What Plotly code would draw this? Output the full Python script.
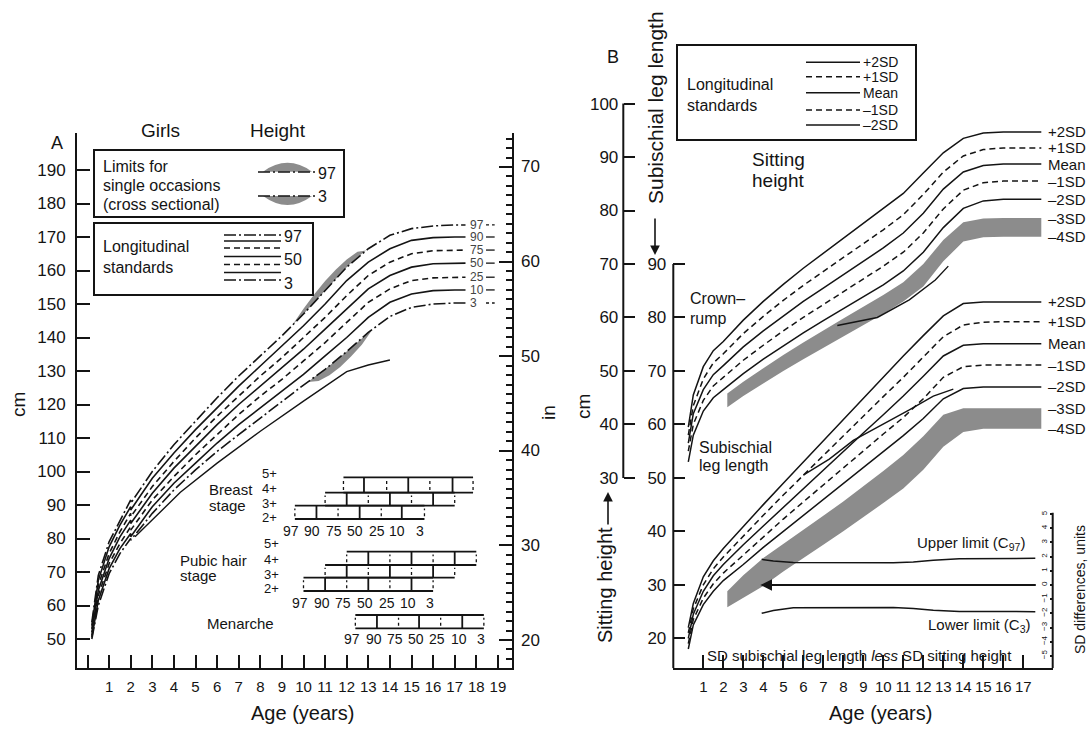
import plotly.graph_objects as go

W, H = 1091, 729
FONT = "Liberation Sans, Arial, Helvetica, sans-serif"
BLACK = "#141414"
GREY = "#8c8c8c"
DASHDOT = "12px,3px,2px,3px"
DASH = "6px,4px"


def X(p):
    return p / W


def Y(p):
    return 1 - p / H


# ---------------- Panel A : girls height percentiles (cm) ----------------
ages_a = [0.2, 0.5, 1.0, 1.5, 2.0, 2.0, 3, 4, 5, 6, 7, 8, 9, 10, 11, 12, 13, 14, 15, 16, 17, 17.5]
p97 = [55, 69, 79, 85.5, 91.5, 90.5, 100, 108, 115, 122, 128.5, 134.5, 140.5, 147, 154, 161, 166.5, 170.5, 172.5, 173.3, 173.6, 173.6]
p90 = [54, 67.5, 77.5, 84, 89.5, 88.5, 98, 105.5, 112.5, 119, 125.5, 131.5, 137.5, 143.5, 150, 157, 162.5, 166.5, 169, 169.8, 170, 170]
p75 = [53, 66, 75.5, 82, 87.5, 86.5, 95.5, 103, 110, 116.5, 122.5, 128.5, 134, 140, 146, 152.5, 158.5, 162.5, 165, 165.9, 166.1, 166.1]
p50 = [52, 64.5, 74, 80.5, 85.5, 84.5, 93.5, 101, 107.5, 114, 120, 125.5, 131, 136.5, 142.5, 148.5, 154.5, 158.5, 161, 162, 162.2, 162.2]
p25 = [51, 63, 72.5, 78.5, 83.5, 82.5, 91.5, 98.5, 105, 111, 117, 122.5, 127.5, 133, 138.5, 144.5, 150.5, 154.5, 157, 157.8, 158, 158]
p10 = [50.5, 61.5, 71, 77, 81.5, 80.5, 89.5, 96.5, 102.5, 108.5, 114, 119, 124, 129, 134.5, 140, 146, 150.5, 153, 154, 154.2, 154.2]
p3 = [50, 60, 69.5, 75.5, 80, 79.5, 87.5, 94.5, 100.5, 106, 111, 116, 121, 125.8, 130.5, 135.8, 141.5, 146.3, 149, 150, 150.3, 150.3]
pct_names = ["97", "90", "75", "50", "25", "10", "3"]
pct_curves = [p97, p90, p75, p50, p25, p10, p3]
pct_dash = [DASHDOT, "solid", DASH, "solid", DASH, "solid", DASHDOT]

# cross-sectional limits (grey lenses)
lens97_ages = [9.5, 10, 10.5, 11, 11.5, 12, 12.5, 12.9]
lens97_lo = [143.9, 147, 150.5, 154, 157.5, 161, 164, 166]
lens97_hi = [143.9, 148.6, 152.9, 156.9, 160.3, 163.3, 165.6, 166]
lens3_ages = [10.2, 10.7, 11.2, 11.7, 12.2, 12.7, 13.2]
lens3_hi = [126.7, 129.1, 131.6, 134.2, 136.9, 139.8, 142.5]
lens3_lo = [126.7, 127.0, 128.7, 131.2, 134.3, 137.8, 142.5]

# extra solid line below the 3rd centile
late_ages = [2.2, 4.3, 6, 8, 10, 11, 12, 13, 14]
late_cm = [80.5, 93.8, 102.5, 112, 121, 125.5, 129.8, 131.8, 133.3]

# puberty ladders: ages at centiles 97,90,75,50,25,10,3
pct_labels = ["97", "90", "75", "50", "25", "10", "3"]
breast_2 = [9.6, 10.6, 11.6, 12.6, 13.6, 14.55, 15.6]
breast_3 = [11.0, 12.0, 13.0, 14.0, 15.0, 16.0, 17.0]
breast_4 = [11.85, 12.8, 13.85, 14.85, 15.85, 16.9, 17.85]
pubic_2 = [10, 11, 12, 13, 14, 15, 16]
pubic_3 = [11, 12, 13, 14, 15, 16, 17]
pubic_4 = [12, 13, 14, 15, 16, 17, 18]
menarche = [12.4, 13.4, 14.4, 15.35, 16.35, 17.35, 18.35]

# ---------------- Panel B : sitting height / subischial leg length ----------------
ages_b = [0.25, 0.5, 1.0, 1.5, 2.0, 3, 4, 5, 6, 7, 8, 9, 10, 11, 12, 13, 14, 15, 16, 17, 17.9]
sit_p2 = [59.5, 65.5, 70.8, 73.8, 75.5, 79.5, 83, 86.2, 89.2, 92, 94.8, 97.6, 100.4, 103.2, 107, 110.8, 113.5, 114.5, 114.7, 114.7, 114.7]
sit_p1 = [58, 63.5, 68.5, 71.5, 73.2, 77, 80.2, 83.2, 86, 88.6, 91.2, 93.8, 96.4, 99.2, 103, 107.2, 110.2, 111.4, 111.7, 111.7, 111.7]
sit_mean = [56.5, 62, 66.5, 69.3, 71, 74.5, 77.5, 80.3, 83, 85.5, 88, 90.5, 93, 95.8, 99.5, 104, 107.2, 108.4, 108.7, 108.7, 108.7]
sit_m1 = [55, 60, 64.5, 67.2, 68.8, 72, 74.8, 77.5, 80, 82.4, 84.8, 87.2, 89.6, 92.2, 95.8, 100.3, 103.8, 105.2, 105.5, 105.5, 105.5]
sit_m2 = [53, 58, 62.5, 65, 66.5, 69.5, 72.2, 74.7, 77.1, 79.4, 81.6, 83.8, 86.1, 88.7, 92.2, 96.8, 100.4, 101.8, 102.1, 102.1, 102.1]
sit_band_ages = [2.2, 3, 4, 5, 6, 7, 8, 9, 10, 11, 12, 13, 14, 15, 16, 17.9]
sit_band_hi = [65.8, 68, 70.5, 73, 75.3, 77.6, 79.8, 82, 84.2, 86.6, 90, 94.5, 97.8, 98.5, 98.6, 98.6]
sit_band_lo = [63.2, 65.3, 67.6, 70, 72.2, 74.4, 76.5, 78.6, 80.7, 83, 85.8, 90.5, 94.2, 95, 95.1, 95.1]
sit_case_ages = [7.7, 9.7, 11.3, 12.6, 13.25]
sit_case = [78.5, 80.0, 83.3, 87.0, 89.6]

leg_p2 = [22, 26.5, 31.5, 34.5, 36.8, 41, 45, 49, 53, 57, 61, 65, 69, 72.8, 76.6, 80.3, 82.6, 82.9, 82.9, 82.9, 82.9]
leg_p1 = [21, 25.5, 30, 33, 35.2, 39.2, 43, 46.8, 50.5, 54.2, 57.9, 61.5, 65.2, 68.8, 72.6, 76.4, 78.6, 79.1, 79.2, 79.2, 79.2]
leg_mean = [20, 24.5, 28.8, 31.7, 33.8, 37.5, 41, 44.5, 48, 51.5, 55, 58.4, 61.8, 65.3, 69, 72.8, 74.8, 75.1, 75.1, 75.1, 75.1]
leg_m1 = [19, 23.5, 27.5, 30.2, 32.2, 35.6, 39, 42.3, 45.5, 48.7, 51.9, 55, 58.2, 61.3, 64.8, 68.8, 70.8, 71.1, 71.1, 71.1, 71.1]
leg_m2 = [18, 22.5, 26.3, 28.8, 30.8, 33.8, 37, 40, 43, 46, 49, 52, 55, 57.9, 61.1, 64.8, 66.7, 67, 67, 67, 67]
leg_band_ages = [2.2, 3, 4, 5, 6, 7, 8, 9, 10, 11, 12, 13, 14, 15, 17.9]
leg_band_hi = [28.8, 31.8, 35, 37.6, 40.2, 42.9, 45.6, 48.4, 51.3, 54.3, 57.8, 61.8, 63, 63, 63]
leg_band_lo = [25.8, 27.5, 29.8, 32.5, 35, 37.5, 40, 42.6, 45.3, 48, 51.5, 55.8, 58.6, 59.2, 59.2]
leg_case_ages = [6.0, 7.3, 8.5, 10, 11.3, 12.5, 13.5]
leg_case = [50.5, 53.5, 57.0, 60.0, 62.7, 65.3, 66.6]

sd_names = ["+2SD", "+1SD", "Mean", "\u20131SD", "\u20132SD"]
sd_dash = ["solid", DASH, "solid", DASH, "solid"]
sit_curves = [sit_p2, sit_p1, sit_mean, sit_m1, sit_m2]
leg_curves = [leg_p2, leg_p1, leg_mean, leg_m1, leg_m2]

# SD difference (leg less sitting height)
sd_ages = [3.92, 4.5, 5.5, 8, 10.5, 11.5, 12.5, 13.8, 15, 17.6]
sd_upper = [1.81, 1.7, 1.58, 1.56, 1.57, 1.62, 1.75, 1.86, 1.88, 1.88]
sd_lower = [-2.0, -1.8, -1.6, -1.57, -1.58, -1.65, -1.78, -1.87, -1.88, -1.88]
sd_zero_ages = [3.85, 17.7]

# axis tick values
cm_ticks_a = list(range(50, 200, 10))
in_ticks_a = [20, 30, 40, 50, 60, 70]
in_minor_a = list(range(17, 74))
age_ticks_a = list(range(0, 20))
age_ticks_b = list(range(1, 19))
leg_ticks = list(range(20, 100, 10))
sit_ticks = list(range(30, 110, 10))
sd_ticks = list(range(-5, 6))

fig = go.Figure()


def line(x, y, xa, ya, dash="solid", width=1.5, color=BLACK):
    fig.add_trace(go.Scatter(x=x, y=y, xaxis=xa, yaxis=ya, mode="lines",
                             line=dict(color=color, width=width, dash=dash),
                             hoverinfo="skip", showlegend=False))


def band(ages, hi, lo, xa, ya):
    fig.add_trace(go.Scatter(x=list(ages) + list(ages[::-1]), y=list(hi) + list(lo[::-1]),
                             xaxis=xa, yaxis=ya, mode="lines", fill="toself",
                             fillcolor=GREY, line=dict(width=0, color=GREY),
                             hoverinfo="skip", showlegend=False))


# ---- Panel A marks ----
band(lens97_ages, lens97_hi, lens97_lo, "x", "y")
band(lens3_ages, lens3_hi, lens3_lo, "x", "y")
for c, d in zip(pct_curves, pct_dash):
    line(ages_a, c, "x", "y", dash=d, width=1.6)
line(late_ages, late_cm, "x", "y", width=1.4)
for c, d in zip(pct_curves, pct_dash):
    line([18.45, 18.85], [c[-1], c[-1]], "x", "y", dash="dot" if d == DASHDOT else "solid", width=1.3)

ladders = [
    (breast_4, 93.67, 98.27), (breast_3, 89.79, 93.67), (breast_2, 85.82, 89.79),
    (pubic_4, 72.09, 76.06), (pubic_3, 68.30, 72.09), (pubic_2, 64.33, 68.30),
    (menarche, 53.19, 57.16),
]
for ages, y0, y1 in ladders:
    hx, hy, sx, sy, dx, dy = [], [], [], [], [], []
    for yy in (y0, y1):
        hx += [ages[0], ages[-1], None]
        hy += [yy, yy, None]
    for i, a in enumerate(ages):
        if i % 2 == 1:
            sx += [a, a, None]
            sy += [y0, y1, None]
        else:
            dx += [a, a, None]
            dy += [y0 + 0.8, y1 - 0.8, None]
    line(hx, hy, "x", "y", width=1.8)
    line(sx, sy, "x", "y", width=1.8)
    line(dx, dy, "x", "y", dash="3px,3px", width=1.3)

# ---- Panel B marks ----
band(sit_band_ages, sit_band_hi, sit_band_lo, "x3", "y3")
band(leg_band_ages, leg_band_hi, leg_band_lo, "x3", "y3")
for c, d in zip(sit_curves, sd_dash):
    line(ages_b, c, "x3", "y3", dash=d, width=1.5)
for c, d in zip(leg_curves, sd_dash):
    line(ages_b, c, "x3", "y3", dash=d, width=1.5)
line(sit_case_ages, sit_case, "x3", "y3", width=1.4)
line(leg_case_ages, leg_case, "x3", "y3", width=1.4)
line(sd_ages, sd_upper, "x3", "y5", width=1.5)
line(sd_ages, sd_lower, "x3", "y5", width=1.5)

# ---------------- annotations ----------------
ann = []


def txt(x, y, s, size=16, xanchor="center", angle=0, xref="paper", yref="paper", color=BLACK):
    if xref == "paper":
        x = X(x)
    if yref == "paper":
        y = Y(y)
    ann.append(dict(x=x, y=y, xref=xref, yref=yref, text=s, showarrow=False,
                    xanchor=xanchor, yanchor="middle", textangle=angle,
                    font=dict(family=FONT, size=size, color=color)))


# Panel A text
txt(57, 143, "A", 18)
txt(160, 130, "Girls", 19)
txt(278, 130, "Height", 19)
txt(101, 166, "Limits for", 16, "left")
txt(101, 186, "single occasions", 16, "left")
txt(101, 204, "(cross sectional)", 16, "left")
txt(316, 173, "97", 16, "left")
txt(316, 197, "3", 16, "left")
txt(101, 247, "Longitudinal", 16, "left")
txt(101, 267, "standards", 16, "left")
txt(282, 237, "97", 16, "left")
txt(282, 259, "50", 16, "left")
txt(282, 283, "3", 16, "left")
txt(18, 405, "cm", 19, angle=-90)
txt(548, 413, "in", 19, angle=-90)
txt(302, 713, "Age (years)", 20)
for n, c in zip(pct_names, pct_curves):
    txt(17.62, c[-1], n, 12, "left", xref="x", yref="y", color="#444444")
for s, yy in zip(["5+", "4+", "3+", "2+"], [473, 488, 503, 517]):
    txt(269, yy, s, 13)
txt(207, 489, "Breast", 15, "left")
txt(207, 505, "stage", 15, "left")
for s, yy in zip(["5+", "4+", "3+", "2+"], [543, 559, 574, 588]):
    txt(271, yy, s, 13)
txt(178, 560, "Pubic hair", 15, "left")
txt(178, 575, "stage", 15, "left")
txt(205, 623, "Menarche", 15, "left")
for lab, a in zip(pct_labels, breast_2):
    txt(a - 0.2, 82.2, lab, 14, xref="x", yref="y")
for lab, a in zip(pct_labels, pubic_2):
    txt(a - 0.15, 60.7, lab, 14, xref="x", yref="y")
for lab, a in zip(pct_labels, menarche):
    txt(a - 0.15, 50.0, lab, 14, xref="x", yref="y")
# right-hand inch scale labels (drawn on the inch axis scale)
for v in in_ticks_a:
    txt(X(519) * 0 + 519, v, str(v), 17, "left", yref="y2")

# Panel B text
txt(613, 57, "B", 18)
txt(685, 85, "Longitudinal", 16, "left")
txt(685, 105, "standards", 16, "left")
for s, yy in zip(sd_names, [62, 77, 93, 110, 125]):
    txt(861, yy, s, 14, "left")
txt(778, 160, "Sitting", 19)
txt(778, 181, "height", 19)
txt(688, 298, "Crown\u2013", 16, "left")
txt(688, 318, "rump", 16, "left")
txt(697, 447, "Subischial", 16, "left")
txt(697, 465, "leg length", 16, "left")
txt(655, 108, "Subischial leg length", 21, angle=-90)
txt(605, 585, "Sitting height", 20, angle=-90)
txt(583, 407, "cm", 19, angle=-90)
txt(1027, 543, "Upper limit (C<sub>97</sub>)", 15, "right")
txt(1033, 625, "Lower limit (C<sub>3</sub>)", 15, "right")
txt(860, 655, "SD subischial leg length <i>less</i> SD sitting height", 15)
txt(1080, 590, "SD differences, units", 14, angle=-90)
txt(880, 713, "Age (years)", 20)
txt(19, 683, "19", 15, xref="x3")
for n, c in zip(sd_names, sit_curves):
    txt(18.12, c[-1], n, 15, "left", xref="x3", yref="y3")
txt(18.12, sit_band_hi[-1], "\u20133SD", 15, "left", xref="x3", yref="y3")
txt(18.12, sit_band_lo[-1], "\u20134SD", 15, "left", xref="x3", yref="y3")
for n, c in zip(sd_names, leg_curves):
    txt(18.12, c[-1], n, 15, "left", xref="x3", yref="y3")
txt(18.12, leg_band_hi[-1], "\u20133SD", 15, "left", xref="x3", yref="y3")
txt(18.12, leg_band_lo[-1], "\u20134SD", 15, "left", xref="x3", yref="y3")

# arrows
ann.append(dict(x=X(655), y=Y(255), xref="paper", yref="paper", ax=0, ay=-38, text="",
                showarrow=True, arrowhead=2, arrowsize=1.2, arrowwidth=1.6, arrowcolor=BLACK))
ann.append(dict(x=X(608), y=Y(492), xref="paper", yref="paper", ax=0, ay=34, text="",
                showarrow=True, arrowhead=2, arrowsize=1.2, arrowwidth=1.6, arrowcolor=BLACK))
ann.append(dict(x=sd_zero_ages[0], y=0, xref="x3", yref="y5", ax=sd_zero_ages[1], ay=0,
                axref="x3", ayref="y5", text="", showarrow=True, arrowhead=2,
                arrowsize=1.3, arrowwidth=1.8, arrowcolor=BLACK))

# ---------------- shapes (legend boxes, free axis lines) ----------------
shapes = []


def seg(x0, y0, x1, y1, dash="solid", width=1.6):
    shapes.append(dict(type="line", xref="paper", yref="paper", x0=X(x0), y0=Y(y0), x1=X(x1), y1=Y(y1),
                       line=dict(color=BLACK, width=width, dash=dash)))


def rect(x0, y0, x1, y1):
    shapes.append(dict(type="rect", xref="paper", yref="paper", x0=X(x0), y0=Y(y0), x1=X(x1), y1=Y(y1),
                       line=dict(color=BLACK, width=2), fillcolor="rgba(0,0,0,0)"))


rect(94, 150, 344, 217)
rect(94, 223, 313, 295)
rect(677, 45, 916, 140)
shapes.append(dict(type="path", xref="paper", yref="paper", fillcolor=GREY, line=dict(width=0),
                   path=f"M {X(263)},{Y(171.7)} Q {X(287.5)},{Y(154)} {X(312)},{Y(171.7)} Z"))
shapes.append(dict(type="path", xref="paper", yref="paper", fillcolor=GREY, line=dict(width=0),
                   path=f"M {X(263)},{Y(196)} Q {X(287.5)},{Y(214)} {X(312)},{Y(196)} Z"))
seg(258, 172, 315, 172, DASHDOT)
seg(258, 196, 315, 196, DASHDOT)
for yy, d in zip([235, 241, 248, 256.5, 264.5, 272.5, 280], pct_dash):
    seg(224, yy, 281, yy, d)
for yy, d in zip([62.3, 76.7, 92.7, 110, 125], sd_dash):
    seg(806, yy, 860, yy, d)

# free-standing axis lines of panel B
shapes.append(dict(type="line", xref="paper", yref="y3", x0=X(673.3), x1=X(673.3), y0=14.39, y1=90,
                   line=dict(color=BLACK, width=2)))
shapes.append(dict(type="line", xref="paper", yref="y4", x0=X(623.3), x1=X(623.3), y0=30, y1=100,
                   line=dict(color=BLACK, width=2)))
shapes.append(dict(type="line", xref="paper", yref="y5", x0=X(1052.7), x1=X(1052.7), y0=-5.88, y1=5.1,
                   line=dict(color=BLACK, width=2)))

tickfont = dict(family=FONT, size=17, color=BLACK)
common = dict(showgrid=False, zeroline=False, fixedrange=True, tickcolor=BLACK, tickwidth=2)

fig.update_layout(
    width=W, height=H, margin=dict(l=0, r=0, t=0, b=0),
    paper_bgcolor="white", plot_bgcolor="rgba(0,0,0,0)", showlegend=False,
    font=dict(family=FONT, color=BLACK),
    xaxis=dict(domain=[X(77), X(512)], range=[-0.486, 19.653], anchor="y",
               showline=True, linecolor=BLACK, linewidth=2, ticks="inside", ticklen=13,
               tickvals=age_ticks_a, ticktext=[""] + [str(i) for i in age_ticks_a[1:]],
               tickfont=dict(family=FONT, size=15, color=BLACK), ticklabelstandoff=4, **common),
    yaxis=dict(domain=[Y(668), Y(133)], range=[41.343, 201.045], anchor="x",
               showline=True, linecolor=BLACK, linewidth=2, ticks="inside", ticklen=13,
               tickvals=cm_ticks_a, tickfont=tickfont, ticklabelstandoff=6, **common),
    yaxis2=dict(overlaying="y", side="right", anchor="x", range=[17.04, 73.59],
                showline=True, linecolor=BLACK, linewidth=2, ticks="inside", ticklen=13,
                tickvals=in_ticks_a, showticklabels=False,
                minor=dict(tickvals=in_minor_a, ticks="inside", ticklen=6,
                           tickwidth=1.5, tickcolor=BLACK, showgrid=False),
                **common),
    xaxis3=dict(domain=[X(673.3), X(1052.7)], range=[-0.5, 18.47], anchor="y3",
                showline=True, linecolor=BLACK, linewidth=2, ticks="inside", ticklen=13,
                tickvals=age_ticks_b,
                tickfont=dict(family=FONT, size=15, color=BLACK), ticklabelstandoff=4, **common),
    yaxis3=dict(domain=[Y(668.3), Y(30)], range=[14.39, 133.76], anchor="x3",
                showline=False, ticks="inside", ticklen=12, tickvals=leg_ticks,
                tickfont=tickfont, ticklabelstandoff=6, **common),
    yaxis4=dict(overlaying="y3", anchor="free", position=X(623.3), side="left",
                range=[-5.61, 113.76], showline=False, ticks="inside", ticklen=11,
                tickvals=sit_ticks, tickfont=tickfont, ticklabelstandoff=5, **common),
    yaxis5=dict(overlaying="y3", anchor="x3", side="right", range=[-5.879, 39.17],
                showline=False, ticks="inside", ticklen=3, tickvals=sd_ticks,
                ticklabelposition="inside", tickangle=-90,
                tickfont=dict(family=FONT, size=8, color=BLACK), **common),
    annotations=ann, shapes=shapes,
)

fig.write_html("out.html")
